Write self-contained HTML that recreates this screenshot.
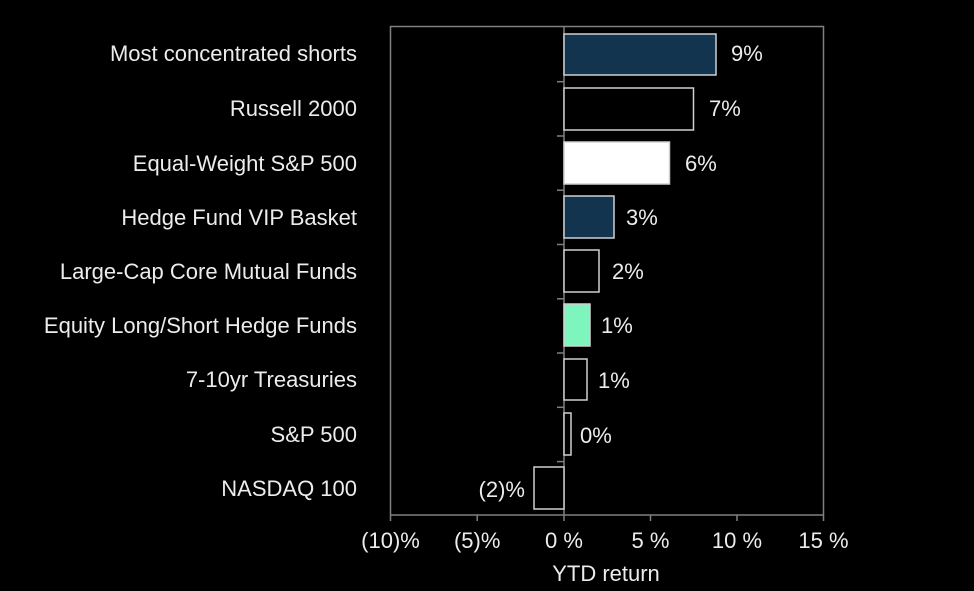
<!DOCTYPE html>
<html><head><style>
html,body{margin:0;padding:0;background:#000;}
svg{display:block;}
text{font-family:"Liberation Sans",Arial,sans-serif;fill:#ececec;}
</style></head><body>
<svg width="974" height="591" xmlns="http://www.w3.org/2000/svg">
<rect width="974" height="591" fill="#000"/>
<rect x="390.5" y="26.5" width="433" height="488.5" fill="none" stroke="#808080" stroke-width="1.5"/>
<line x1="564" y1="26" x2="564" y2="515" stroke="#808080" stroke-width="1.5"/>
<g stroke="#808080" stroke-width="1.5">
<line x1="557" y1="81.7" x2="564" y2="81.7"/><line x1="557" y1="136" x2="564" y2="136"/>
<line x1="557" y1="190.2" x2="564" y2="190.2"/><line x1="557" y1="244.5" x2="564" y2="244.5"/>
<line x1="557" y1="298.8" x2="564" y2="298.8"/><line x1="557" y1="353" x2="564" y2="353"/>
<line x1="557" y1="407.3" x2="564" y2="407.3"/><line x1="557" y1="461.6" x2="564" y2="461.6"/>
<line x1="390.5" y1="515" x2="390.5" y2="521"/><line x1="477.2" y1="515" x2="477.2" y2="521"/>
<line x1="564" y1="515" x2="564" y2="521"/><line x1="650.5" y1="515" x2="650.5" y2="521"/>
<line x1="737" y1="515" x2="737" y2="521"/><line x1="823.5" y1="515" x2="823.5" y2="521"/>
</g>
<g stroke="#d0d0d0" stroke-width="1.5">
<rect x="564" y="34" width="152" height="41" fill="#12344f"/>
<rect x="564" y="88" width="129.5" height="42" fill="#000"/>
<rect x="564" y="142" width="105.5" height="42" fill="#fff"/>
<rect x="564" y="196" width="50" height="42" fill="#12344f"/>
<rect x="564" y="250" width="35" height="42" fill="#000"/>
<rect x="564" y="304" width="26" height="42" fill="#7df5bd"/>
<rect x="564" y="359" width="23" height="41" fill="#000"/>
<rect x="564" y="413" width="7" height="42" fill="#000"/>
<rect x="534" y="467" width="30" height="42" fill="#000"/>
</g>
<g font-size="22">
<text x="731" y="61">9%</text>
<text x="709" y="116">7%</text>
<text x="685" y="171">6%</text>
<text x="626" y="225">3%</text>
<text x="612" y="279">2%</text>
<text x="601" y="333">1%</text>
<text x="598" y="388">1%</text>
<text x="580" y="443">0%</text>
<text x="525" y="497" text-anchor="end">(2)%</text>
</g>
<g font-size="22" text-anchor="end">
<text x="357" y="61">Most concentrated shorts</text>
<text x="357" y="116">Russell 2000</text>
<text x="357" y="171">Equal-Weight S&amp;P 500</text>
<text x="357" y="225">Hedge Fund VIP Basket</text>
<text x="357" y="279">Large-Cap Core Mutual Funds</text>
<text x="357" y="333">Equity Long/Short Hedge Funds</text>
<text x="357" y="387">7-10yr Treasuries</text>
<text x="357" y="442">S&amp;P 500</text>
<text x="357" y="496">NASDAQ 100</text>
</g>
<g font-size="22" text-anchor="middle">
<text x="390.5" y="548">(10)%</text>
<text x="477.2" y="548">(5)%</text>
<text x="564" y="548">0 %</text>
<text x="650.5" y="548">5 %</text>
<text x="737" y="548">10 %</text>
<text x="823.5" y="548">15 %</text>
<text x="606" y="581">YTD return</text>
</g>
</svg>
</body></html>
